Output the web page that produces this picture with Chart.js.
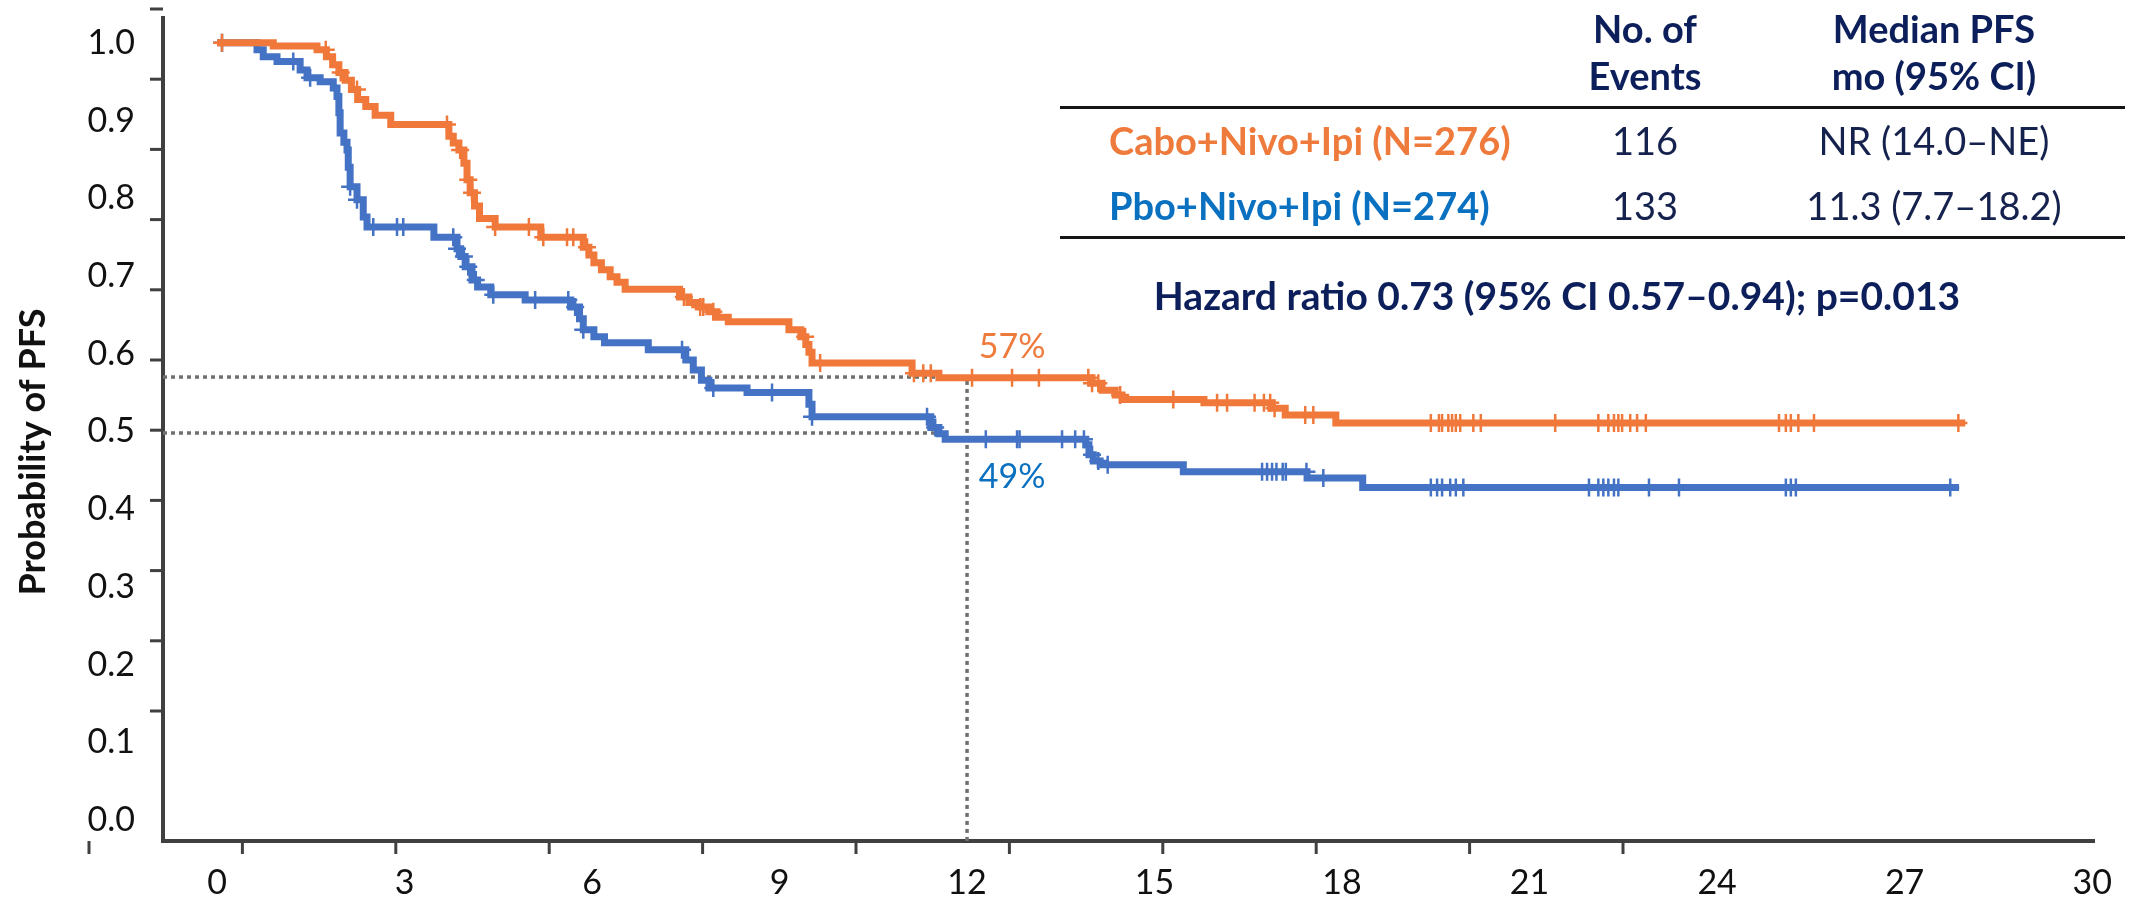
<!DOCTYPE html>
<html lang="en">
<head>
    <meta charset="UTF-8">
    <title>Probability of PFS: Cabo+Nivo+Ipi vs Pbo+Nivo+Ipi</title>
    <script src="https://cdn.jsdelivr.net/npm/chart.js@4.4.1/dist/chart.umd.min.js"></script>
    <style>
        body {
            margin: 0;
            background-color: #ffffff;
            font-family: 'Lato', sans-serif;
        }
        .wrap {
            position: relative;
            width: 2141px;
            height: 902px;
        }
        .txt {
            position: absolute;
            white-space: nowrap;
            line-height: 1;
        }
        .c { transform: translate(-50%, -50%); }
        .l { transform: translateY(-50%); }
        .head {
            font-weight: bold;
            font-size: 38px;
            color: #0c1f5a;
        }
        .val {
            font-size: 38px;
            color: #16224e;
        }
        .arm {
            font-weight: bold;
            font-size: 38px;
        }
        .rule {
            position: absolute;
            left: 1060px;
            width: 1065px;
            height: 3px;
            background-color: #151515;
        }
        .hr {
            font-weight: bold;
            font-size: 39px;
            color: #0c1f5a;
        }
    </style>
</head>
<body>
    <div class="wrap">
        <canvas id="pfsChart"></canvas>

        <div class="txt c head" style="left:1645px; top:28px;">No. of</div>
        <div class="txt c head" style="left:1645px; top:75px;">Events</div>
        <div class="txt c head" style="left:1934px; top:28px;">Median PFS</div>
        <div class="txt c head" style="left:1934px; top:75px;">mo (95% CI)</div>
        <div class="rule" style="top:106px;"></div>

        <div class="txt l arm" style="left:1109px; top:140px; color:#ee7a3c;">Cabo+Nivo+Ipi (N=276)</div>
        <div class="txt c val" style="left:1645px; top:140px;">116</div>
        <div class="txt c val" style="left:1934px; top:140px;">NR (14.0–NE)</div>

        <div class="txt l arm" style="left:1109px; top:205px; color:#0a70c0;">Pbo+Nivo+Ipi (N=274)</div>
        <div class="txt c val" style="left:1645px; top:205px;">133</div>
        <div class="txt c val" style="left:1934px; top:205px;">11.3 (7.7–18.2)</div>
        <div class="rule" style="top:236px;"></div>

        <div class="txt c hr" style="left:1557px; top:295px;">Hazard ratio 0.73 (95% CI 0.57–0.94); p=0.013</div>
    </div>

    <script>
        // Kaplan-Meier steps (months, probability)
        const cabTime = [0, 0.9, 1.6, 1.75, 1.85, 1.95, 2.05, 2.15, 2.25, 2.38,
            2.53, 2.78, 3.71, 3.78, 3.87, 3.95, 4.0, 4.05, 4.12, 4.2,
            4.45, 5.18, 5.86, 5.95, 6.03, 6.15, 6.29, 6.4, 6.53, 7.4,
            7.55, 7.7, 7.87, 8.0, 8.18, 9.15, 9.34, 9.42, 9.47, 9.52,
            11.12, 11.55, 14.0, 14.16, 14.37, 14.48, 15.79, 16.86, 17.09, 17.9,
            27.97];
        const cabSurv = [1.0, 0.996, 0.991, 0.982, 0.972, 0.962, 0.952, 0.940, 0.927, 0.918,
            0.907, 0.895, 0.880, 0.871, 0.862, 0.845, 0.824, 0.807, 0.790, 0.774,
            0.763, 0.750, 0.737, 0.727, 0.717, 0.708, 0.699, 0.692, 0.683, 0.673,
            0.666, 0.660, 0.654, 0.647, 0.641, 0.631, 0.622, 0.612, 0.602, 0.588,
            0.575, 0.569, 0.562, 0.553, 0.547, 0.541, 0.537, 0.530, 0.521, 0.511,
            0.511];
        const pboTime = [0, 0.64, 0.74, 0.96, 1.33, 1.44, 1.65, 1.86, 1.92, 1.95,
            1.97, 2.03, 2.08, 2.1, 2.13, 2.24, 2.34, 2.40, 3.47, 3.84,
            3.9, 3.97, 4.08, 4.17, 4.38, 4.93, 5.66, 5.8, 5.86, 6.03,
            6.2, 6.9, 7.5, 7.62, 7.75, 7.87, 8.48, 9.47, 9.52, 11.42,
            11.55, 11.65, 13.9, 13.95, 14.02, 14.13, 15.46, 17.44, 18.33, 27.87];
        const pboSurv = [1.0, 0.991, 0.982, 0.976, 0.965, 0.955, 0.950, 0.942, 0.931, 0.910,
            0.884, 0.872, 0.862, 0.840, 0.815, 0.798, 0.776, 0.763, 0.750, 0.735,
            0.725, 0.712, 0.695, 0.686, 0.676, 0.669, 0.660, 0.645, 0.631, 0.622,
            0.614, 0.605, 0.592, 0.579, 0.566, 0.556, 0.550, 0.535, 0.519, 0.505,
            0.497, 0.490, 0.483, 0.470, 0.462, 0.457, 0.448, 0.440, 0.428, 0.428];

        // censoring marks (months)
        const cabCensor = [0.08, 1.74, 1.98, 2.24, 3.68, 3.89, 4.02, 4.08, 4.45, 4.99,
            5.22, 5.6, 5.7, 5.92, 7.47, 7.73, 7.78, 7.94, 9.41, 9.65,
            11.15, 11.3, 11.42, 12.08, 12.72, 13.15, 13.94, 14.0, 14.1, 14.45,
            15.3, 16.0, 16.16, 16.6, 16.75, 16.85, 16.92, 17.41, 17.54, 19.42,
            19.55, 19.6, 19.7, 19.76, 19.82, 19.89, 20.1, 20.22, 21.41, 22.1,
            22.26, 22.35, 22.42, 22.48, 22.61, 22.72, 22.86, 24.99, 25.1, 25.18,
            25.3, 25.55, 27.86];
        const pboCensor = [0.08, 1.22, 1.49, 2.13, 2.24, 2.5, 2.88, 2.98, 3.78, 3.84,
            3.95, 4.02, 4.14, 4.42, 5.09, 5.62, 5.73, 5.86, 7.44, 7.94,
            8.88, 9.52, 11.36, 11.49, 12.3, 12.8, 12.84, 13.52, 13.73, 13.87,
            14.0, 14.1, 14.25, 16.72, 16.8, 16.88, 16.95, 17.05, 17.1, 17.43,
            17.7, 19.42, 19.52, 19.6, 19.73, 19.82, 19.94, 21.95, 22.1, 22.18,
            22.26, 22.35, 22.42, 22.91, 23.39, 25.1, 25.18, 25.26, 27.73];

        const xTickValues = [0, 3, 6, 9, 12, 15, 18, 21, 24, 27, 30];
        const yTickValues = [0, 0.1, 0.2, 0.3, 0.4, 0.5, 0.6, 0.7, 0.8, 0.9, 1.0];

        // 12-month landmark
        const landmarkMonth = 12;
        const landmarkCab = 0.57;
        const landmarkPbo = 0.498;

        const orange = '#f0783a';
        const blue = '#4472c4';
        const axisColor = '#404040';

        const xMin = -0.864, xMax = 30.03;
        const yMin = -0.027, yMax = 1.032;

        function survivalAt(times, surv, t) {
            let s = surv[0];
            for (let i = 0; i < times.length; i++) {
                if (times[i] <= t) s = surv[i];
            }
            return s;
        }

        const toPoints = (times, surv) => times.map((t, i) => ({ x: t, y: surv[i] }));
        const censorPoints = (marks, times, surv) => marks.map(t => ({ x: t, y: survivalAt(times, surv, t) }));

        Chart.defaults.font.family = 'Lato';
        Chart.defaults.color = '#111111';

        // offset tick marks and overlay labels
        const decorations = {
            id: 'decorations',
            afterDraw(chart) {
                const { ctx, chartArea: a, scales: { x, y } } = chart;
                ctx.save();
                ctx.strokeStyle = axisColor;
                ctx.lineWidth = 3;
                for (let k = 0; k < 11; k++) {
                    const ty = a.top - 9 + 70.2 * k;
                    ctx.beginPath();
                    ctx.moveTo(a.left - 13, ty);
                    ctx.lineTo(a.left, ty);
                    ctx.stroke();
                    const tx = a.left - 74 + 153.4 * k;
                    ctx.beginPath();
                    ctx.moveTo(tx, a.bottom);
                    ctx.lineTo(tx, a.bottom + 13);
                    ctx.stroke();
                }

                // y axis title
                ctx.translate(33, 452);
                ctx.rotate(-Math.PI / 2);
                ctx.font = 'bold 36px Lato';
                ctx.fillStyle = '#111111';
                ctx.textAlign = 'center';
                ctx.textBaseline = 'middle';
                ctx.fillText('Probability of PFS', 0, 0);
                ctx.restore();

                ctx.save();
                ctx.font = '34px Lato';
                ctx.textAlign = 'center';
                ctx.textBaseline = 'middle';
                ctx.fillStyle = '#ee7a3c';
                ctx.fillText('57%', x.getPixelForValue(12.72), y.getPixelForValue(0.609));
                ctx.fillStyle = '#0a70c0';
                ctx.fillText('49%', x.getPixelForValue(12.72), y.getPixelForValue(0.441));
                ctx.restore();
            }
        };

        new Chart(document.getElementById('pfsChart'), {
            type: 'line',
            data: {
                datasets: [
                    {
                        label: 'Cabo+Nivo+Ipi',
                        data: toPoints(cabTime, cabSurv),
                        borderColor: orange,
                        borderWidth: 7,
                        stepped: true,
                        pointRadius: 0
                    },
                    {
                        label: 'Cabo censored',
                        type: 'scatter',
                        data: censorPoints(cabCensor, cabTime, cabSurv),
                        borderColor: orange,
                        pointStyle: 'cross',
                        pointRadius: 9,
                        pointBorderWidth: 2.5,
                        showLine: false
                    },
                    {
                        label: 'Pbo+Nivo+Ipi',
                        data: toPoints(pboTime, pboSurv),
                        borderColor: blue,
                        borderWidth: 7,
                        stepped: true,
                        pointRadius: 0
                    },
                    {
                        label: 'Pbo censored',
                        type: 'scatter',
                        data: censorPoints(pboCensor, pboTime, pboSurv),
                        borderColor: blue,
                        pointStyle: 'cross',
                        pointRadius: 9,
                        pointBorderWidth: 2.5,
                        showLine: false
                    },
                    {
                        label: 'landmark cabo',
                        data: [{ x: xMin, y: landmarkCab }, { x: 11.5, y: landmarkCab }],
                        borderColor: '#707070',
                        borderWidth: 3.5,
                        borderDash: [4, 4],
                        pointRadius: 0
                    },
                    {
                        label: 'landmark pbo',
                        data: [{ x: xMin, y: landmarkPbo }, { x: 11.5, y: landmarkPbo }],
                        borderColor: '#707070',
                        borderWidth: 3.5,
                        borderDash: [4, 4],
                        pointRadius: 0
                    },
                    {
                        label: 'landmark month',
                        data: [{ x: landmarkMonth, y: 0.565 }, { x: landmarkMonth, y: yMin }],
                        borderColor: '#707070',
                        borderWidth: 3.5,
                        borderDash: [4, 4],
                        pointRadius: 0
                    }
                ]
            },
            options: {
                responsive: true,
                maintainAspectRatio: false,
                animation: false,
                layout: { padding: { top: 18, right: 47, left: 0, bottom: 0 } },
                plugins: {
                    legend: { display: false },
                    tooltip: { enabled: false }
                },
                scales: {
                    x: {
                        type: 'linear',
                        min: xMin,
                        max: xMax,
                        afterBuildTicks: s => { s.ticks = xTickValues.map(v => ({ value: v })); },
                        afterFit: s => { s.height = 61; s.paddingLeft = 0; s.paddingRight = 0; },
                        grid: { display: false, drawTicks: false },
                        border: { display: true, color: axisColor, width: 4 },
                        ticks: {
                            autoSkip: false,
                            maxRotation: 0,
                            padding: 22,
                            font: { size: 34 },
                            color: '#111111',
                            callback: v => String(v)
                        }
                    },
                    y: {
                        type: 'linear',
                        min: yMin,
                        max: yMax,
                        afterBuildTicks: s => { s.ticks = yTickValues.map(v => ({ value: v })); },
                        afterFit: s => { s.width = 163; s.paddingTop = 0; s.paddingBottom = 0; },
                        grid: { display: false, drawTicks: false },
                        border: { display: true, color: axisColor, width: 4 },
                        ticks: {
                            autoSkip: false,
                            padding: 28,
                            font: { size: 34 },
                            color: '#111111',
                            callback: v => v.toFixed(1)
                        }
                    }
                }
            },
            plugins: [decorations]
        });
    </script>
</body>
</html>
